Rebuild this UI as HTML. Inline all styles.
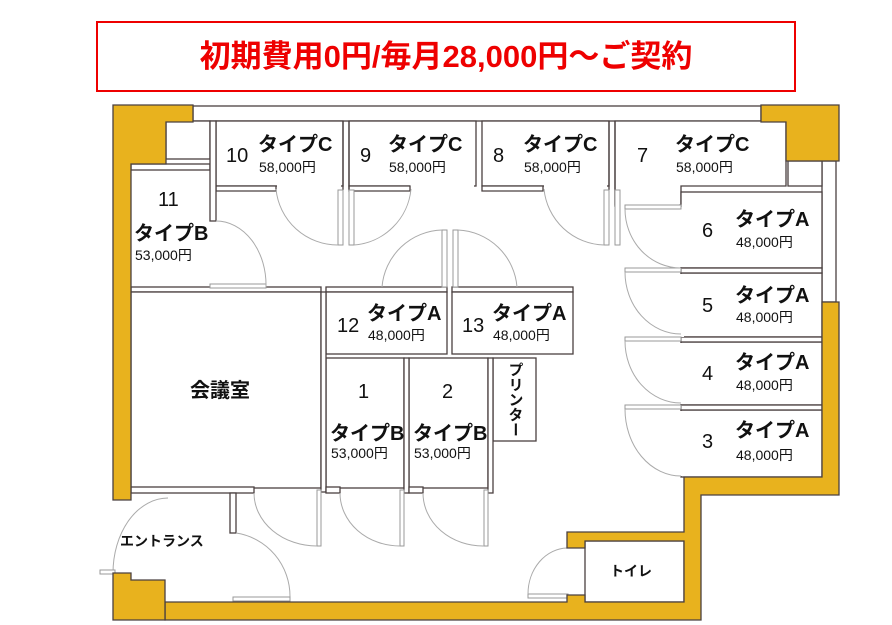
<!DOCTYPE html>
<html><head><meta charset="utf-8"><style>
body{margin:0;background:#fff;}
svg{display:block;font-family:"Liberation Sans","Noto Sans CJK JP",sans-serif;}
.w{fill:#fff;stroke:#4a4040;stroke-width:1.3}
.y{fill:#e8b21e;stroke:#4a4040;stroke-width:1.3}
.d{fill:none;stroke:#aaa;stroke-width:1}
.l{fill:#fff;stroke:#999;stroke-width:1}
.t{font-size:20px;fill:#111;font-weight:bold}
.p{font-size:14px;fill:#111}
.n{font-size:20px;fill:#111}
</style></head><body>
<svg width="892" height="625" viewBox="0 0 892 625">
<rect x="97" y="22" width="698" height="69" fill="#fff" stroke="#e00" stroke-width="2"/>
<text x="446" y="67" text-anchor="middle" font-size="31" font-weight="bold" fill="#e00">初期費用0円/毎月28,000円〜ご契約</text>

<rect class="w" x="193" y="106" width="568" height="15"/>
<rect class="w" x="822" y="161" width="14" height="141"/>
<rect class="w" x="166" y="121" width="44" height="38"/>
<rect class="w" x="788" y="161" width="34" height="25"/>
<rect class="w" x="216" y="121" width="127" height="65"/>
<rect class="w" x="349" y="121" width="127" height="65"/>
<rect class="w" x="482" y="121" width="127" height="65"/>
<polygon class="w" points="615,121 786,121 786,186 681,186 681,205 615,205"/>
<rect fill="#fff" x="277" y="183" width="64" height="6"/>
<rect fill="#fff" x="410" y="183" width="64" height="6"/>
<rect fill="#fff" x="544" y="183" width="63" height="6"/>
<rect fill="#fff" x="617" y="183" width="62" height="24"/>
<path d="M216,186 H276 V191 H216 Z" class="w"/>
<path d="M349,186 H410 V191 H349 Z" class="w"/>
<path d="M482,186 H543 V191 H482 Z" class="w"/>
<path d="M343,121 V190 M349,121 V190 M609,121 V190 M615,121 V207" stroke="#4a4040" fill="none" stroke-width="1.3"/>
<rect class="l" x="338" y="190" width="5" height="55"/><rect class="l" x="349" y="190" width="5" height="55"/>
<rect class="l" x="604" y="190" width="5" height="55"/><rect class="l" x="615" y="190" width="5" height="55"/>
<path class="d" d="M276,189 A62,62 0 0 0 338,245"/>
<path class="d" d="M411,189 A62,62 0 0 1 354,245"/>
<path class="d" d="M544,189 A62,62 0 0 0 604,245"/>
<rect class="w" x="131" y="164" width="79" height="6"/>
<rect class="w" x="210" y="121" width="6" height="100"/>
<rect class="w" x="131" y="287" width="190" height="5"/>
<rect class="w" x="326" y="287" width="121" height="5"/>
<rect class="w" x="452" y="287" width="121" height="5"/>
<rect class="l" x="210" y="284" width="56" height="4"/>
<path class="d" d="M216,221 A50,64 0 0 1 266,287"/>
<rect class="l" x="442" y="230" width="5" height="57"/><rect class="l" x="453" y="230" width="5" height="57"/>
<path class="d" d="M442,230 A62,62 0 0 0 382,287"/>
<path class="d" d="M458,230 A62,62 0 0 1 517,287"/>
<rect class="w" x="131" y="292" width="190" height="196"/>
<rect class="w" x="326" y="292" width="121" height="62"/>
<rect class="w" x="452" y="292" width="121" height="62"/>
<rect class="w" x="326" y="358" width="78" height="130"/>
<rect class="w" x="409" y="358" width="79" height="130"/>
<rect class="w" x="493" y="358" width="43" height="83"/>
<rect class="w" x="488" y="358" width="5" height="135"/>
<rect class="w" x="321" y="292" width="5" height="200"/>
<rect class="w" x="404" y="358" width="5" height="135"/>
<rect class="w" x="131" y="487" width="123" height="6"/>
<rect class="w" x="230" y="493" width="6" height="40"/>
<rect class="w" x="326" y="487" width="14" height="6"/>
<rect class="w" x="409" y="487" width="14" height="6"/>
<rect class="l" x="317" y="490" width="4" height="56"/>
<rect class="l" x="400" y="490" width="4" height="56"/>
<rect class="l" x="484" y="490" width="4" height="56"/>
<path class="d" d="M254,493 A63,53 0 0 0 317,546"/>
<path class="d" d="M340,493 A60,53 0 0 0 400,546"/>
<path class="d" d="M423,493 A60,53 0 0 0 484,546"/>
<path class="d" d="M236,533 A63,64 0 0 1 290,597"/>
<rect class="l" x="233" y="597" width="57" height="4"/>
<path class="d" d="M113,573 A55,75 0 0 1 168,498"/>
<rect class="l" x="100" y="570" width="15" height="4"/>
<rect class="w" x="681" y="192" width="141" height="76"/>
<rect class="w" x="681" y="273" width="141" height="64"/>
<rect class="w" x="681" y="342" width="141" height="63"/>
<rect class="w" x="681" y="410" width="141" height="67"/>
<rect class="w" x="681" y="268" width="141" height="5"/>
<rect class="w" x="681" y="337" width="141" height="5"/>
<rect class="w" x="681" y="405" width="141" height="5"/>
<rect fill="#fff" x="679" y="207" width="5" height="60"/>
<rect fill="#fff" x="679" y="274" width="5" height="63"/>
<rect fill="#fff" x="679" y="343" width="5" height="61"/>
<rect fill="#fff" x="679" y="411" width="5" height="65"/>
<rect class="l" x="625" y="205" width="56" height="4"/>
<rect class="l" x="625" y="268" width="56" height="4"/>
<rect class="l" x="625" y="337" width="56" height="4"/>
<rect class="l" x="625" y="405" width="56" height="4"/>
<path class="d" d="M625,209 A56,59 0 0 0 681,268"/>
<path class="d" d="M625,272 A56,62 0 0 0 681,334"/>
<path class="d" d="M625,341 A56,62 0 0 0 681,403"/>
<path class="d" d="M625,409 A56,67 0 0 0 681,476"/>
<rect fill="#fff" stroke="#4a4040" stroke-width="1.3" x="585" y="541" width="99" height="61"/>
<rect class="l" x="528" y="594" width="40" height="4"/>
<path class="d" d="M528,594 A40,46 0 0 1 567,548"/>
<polygon class="y" points="113,105 193,105 193,122 166,122 166,164 131,164 131,500 113,500"/>
<polygon class="y" points="761,105 839,105 839,161 786,161 786,122 761,122"/>
<polygon class="y" points="822,302 839,302 839,495 701,495 701,620 165,620 165,602 567,602 567,595 585,595 585,602 684,602 684,541 585,541 585,548 567,548 567,532 684,532 684,477 822,477"/>
<polygon class="y" points="113,573 131,573 131,580 165,580 165,620 113,620"/>
<text class="n" x="226" y="162">10</text><text class="t" x="258" y="151">タイプC</text><text class="p" x="259" y="172">58,000円</text>
<text class="n" x="360" y="162">9</text><text class="t" x="388" y="151">タイプC</text><text class="p" x="389" y="172">58,000円</text>
<text class="n" x="493" y="162">8</text><text class="t" x="523" y="151">タイプC</text><text class="p" x="524" y="172">58,000円</text>
<text class="n" x="637" y="162">7</text><text class="t" x="675" y="151">タイプC</text><text class="p" x="676" y="172">58,000円</text>
<text class="n" x="158" y="206">11</text><text class="t" x="134" y="240">タイプB</text><text class="p" x="135" y="260">53,000円</text>
<text class="n" x="337" y="332">12</text><text class="t" x="367" y="320">タイプA</text><text class="p" x="368" y="340">48,000円</text>
<text class="n" x="462" y="332">13</text><text class="t" x="492" y="320">タイプA</text><text class="p" x="493" y="340">48,000円</text>
<text class="t" x="190" y="397">会議室</text>
<text class="n" x="358" y="398">1</text><text class="t" x="330" y="440">タイプB</text><text class="p" x="331" y="458">53,000円</text>
<text class="n" x="442" y="398">2</text><text class="t" x="413" y="440">タイプB</text><text class="p" x="414" y="458">53,000円</text>
<text font-size="15" fill="#111" font-weight="bold" x="515" y="362" style="writing-mode:vertical-rl">プリンター</text>
<text class="n" x="702" y="237">6</text><text class="t" x="735" y="226">タイプA</text><text class="p" x="736" y="247">48,000円</text>
<text class="n" x="702" y="312">5</text><text class="t" x="735" y="302">タイプA</text><text class="p" x="736" y="322">48,000円</text>
<text class="n" x="702" y="380">4</text><text class="t" x="735" y="369">タイプA</text><text class="p" x="736" y="390">48,000円</text>
<text class="n" x="702" y="448">3</text><text class="t" x="735" y="437">タイプA</text><text class="p" x="736" y="460">48,000円</text>
<text font-size="14" font-weight="bold" fill="#111" x="120" y="546">エントランス</text>
<text font-size="14" font-weight="bold" fill="#111" x="610" y="576">トイレ</text>
</svg>
</body></html>
